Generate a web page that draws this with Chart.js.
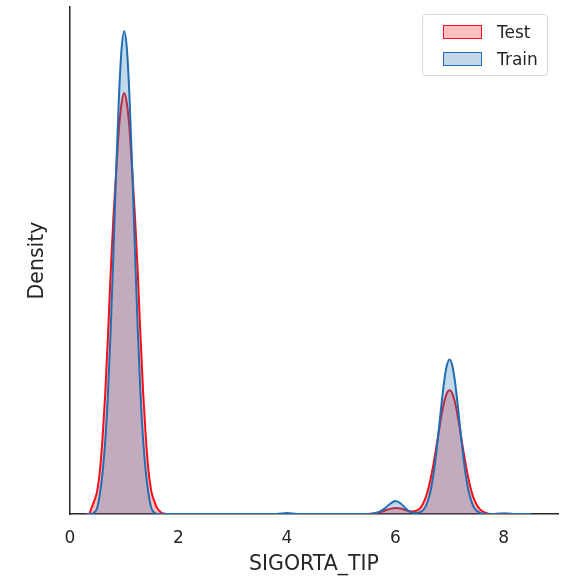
<!DOCTYPE html>
<html>
<head>
<meta charset="utf-8">
<script src="https://cdn.jsdelivr.net/npm/chart.js@4"></script>
<style>
  html, body { margin: 0; padding: 0; background: #fff; }
  #wrap { position: relative; width: 579px; height: 579px; }
  #legend {
    position: absolute; left: 422px; top: 14px; width: 124px; height: 60px;
    border: 1px solid #d9d9d9; border-radius: 4px; background: rgba(255,255,255,0.8);
    font-family: "DejaVu Sans", sans-serif; font-size: 17px; color: #262626;
  }
  .item { position: absolute; left: 20px; height: 20px; display: flex; align-items: center; }
  .sw { width: 39px; height: 14px; margin-right: 15px; box-sizing: border-box; border-width: 1.5px; border-style: solid; }
</style>
</head>
<body>
<div id="wrap">
  <canvas id="Chart" width="579" height="579"></canvas>
  <div id="legend"></div>
</div>
<script>
const xs = [0.30, 0.35, 0.40, 0.45, 0.50, 0.55, 0.60, 0.65, 0.70, 0.75,
            0.80, 0.85, 0.90, 0.95, 1.00, 1.05, 1.10, 1.15, 1.20, 1.25,
            1.30, 1.35, 1.40, 1.45, 1.50, 1.55, 1.60, 1.65, 1.70, 1.80,
            2.00, 3.00, 3.80, 4.00, 4.20, 5.00, 5.50, 5.60, 5.70, 5.80,
            5.90, 6.00, 6.10, 6.20, 6.30, 6.40, 6.45, 6.50, 6.55, 6.60,
            6.65, 6.70, 6.75, 6.80, 6.85, 6.90, 6.95, 7.00, 7.05, 7.10,
            7.15, 7.20, 7.25, 7.30, 7.35, 7.40, 7.45, 7.50, 7.55, 7.60,
            7.70, 7.80, 8.00, 8.20, 8.50];

const testDensity = [0, 0, 0.022, 0.045, 0.075, 0.140, 0.250, 0.400, 0.590, 0.800,
                     0.980, 1.130, 1.270, 1.360, 1.395, 1.360, 1.270, 1.130, 0.980, 0.800,
                     0.590, 0.400, 0.250, 0.140, 0.075, 0.045, 0.022, 0.010, 0.003, 0,
                     0, 0, 0, 0, 0, 0, 0, 0.002, 0.005, 0.011,
                     0.017, 0.020, 0.018, 0.012, 0.008, 0.012, 0.018, 0.031, 0.050, 0.078,
                     0.116, 0.162, 0.215, 0.271, 0.325, 0.370, 0.400, 0.410, 0.400, 0.370,
                     0.325, 0.271, 0.215, 0.162, 0.116, 0.078, 0.050, 0.031, 0.018, 0.010,
                     0.002, 0, 0.001, 0, 0];

const trainDensity = [0, 0, 0.001, 0.006, 0.020, 0.065, 0.136, 0.242, 0.398, 0.610,
                      0.862, 1.131, 1.371, 1.539, 1.600, 1.539, 1.371, 1.131, 0.862, 0.610,
                      0.398, 0.242, 0.136, 0.065, 0.020, 0.006, 0.001, 0, 0, 0,
                      0, 0, 0, 0.003, 0, 0, 0, 0.002, 0.007, 0.018,
                      0.033, 0.043, 0.035, 0.017, 0.005, 0.004, 0.006, 0.011, 0.022, 0.044,
                      0.077, 0.127, 0.195, 0.276, 0.362, 0.439, 0.492, 0.512, 0.492, 0.439,
                      0.362, 0.276, 0.195, 0.127, 0.077, 0.044, 0.022, 0.011, 0.005, 0.002,
                      0, 0, 0.002, 0, 0];

const xTicks = [0, 2, 4, 6, 8];
const seriesNames = ["Test", "Train"];

const ink = "#262626";
const tickFont = { family: "DejaVu Sans", size: 17 };
const labelFont = { family: "DejaVu Sans", size: 20.5 };

const toPoints = (ys) => xs.map((x, i) => ({ x: x, y: ys[i] }));

const data = {
    datasets: [{
            label: seriesNames[0],
            data: toPoints(testDensity),
            borderColor: "rgb(245, 15, 25)",
            backgroundColor: "rgba(255, 0, 0, 0.25)",
            fill: "origin",
            order: 2,
        },
        {
            label: seriesNames[1],
            data: toPoints(trainDensity),
            borderColor: "rgb(31, 110, 180)",
            backgroundColor: "rgba(31, 119, 180, 0.28)",
            fill: "origin",
            order: 1,
        },
    ],
};

const config = {
    type: "line",
    data: data,
    options: {
        responsive: false,
        animation: false,
        layout: { padding: { top: 7, right: 21, left: 0, bottom: 0 } },
        elements: {
            point: { radius: 0 },
            line: { borderWidth: 2, cubicInterpolationMode: "monotone" },
        },
        plugins: { legend: { display: false }, tooltip: { enabled: false } },
        scales: {
            x: {
                type: "linear",
                min: 0,
                max: 9,
                grid: { display: false, drawTicks: false },
                border: { display: true, color: ink, width: 1.5 },
                ticks: { color: ink, font: tickFont, padding: 14, maxRotation: 0 },
                afterBuildTicks: (axis) => { axis.ticks = xTicks.map(v => ({ value: v })); },
                afterFit: (axis) => { axis.height = 65; },
                title: { display: true, text: "SIGORTA_TIP", color: ink, font: labelFont, padding: { top: 0, bottom: 2 } },
            },
            y: {
                min: 0,
                max: 1.68,
                grid: { display: false, drawTicks: false },
                border: { display: true, color: ink, width: 1.5 },
                ticks: { display: false },
                afterFit: (axis) => { axis.width = 70; },
                title: { display: true, text: "Density", color: ink, font: labelFont, padding: { top: 25, bottom: 0 } },
            },
        },
    },
};

const myChart = new Chart(document.getElementById("Chart"), config);

// legend as html, built from the datasets
const legend = document.getElementById("legend");
data.datasets.forEach((ds, i) => {
    const row = document.createElement("div");
    row.className = "item";
    row.style.top = (7 + i * 27) + "px";
    const sw = document.createElement("span");
    sw.className = "sw";
    sw.style.borderColor = ds.borderColor;
    sw.style.background = ds.backgroundColor;
    row.appendChild(sw);
    row.appendChild(document.createTextNode(ds.label));
    legend.appendChild(row);
});
</script>
</body>
</html>
